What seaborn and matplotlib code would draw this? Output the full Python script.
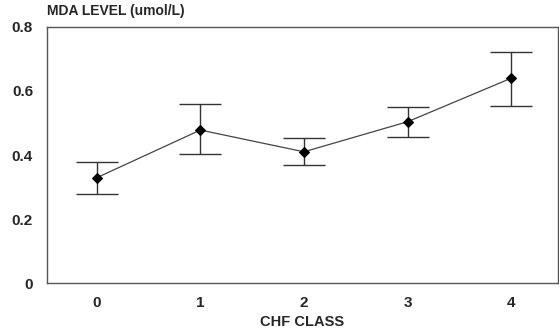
import seaborn as sns
import matplotlib.pyplot as plt
import pandas as pd

# data
chf_class = [0, 1, 2, 3, 4]
mda_mean = [0.329, 0.478, 0.410, 0.504, 0.640]
mda_upper = [0.379, 0.558, 0.452, 0.551, 0.723]
mda_lower = [0.278, 0.403, 0.370, 0.457, 0.554]

df = pd.DataFrame({"CHF CLASS": chf_class, "MDA": mda_mean})
err_low = [m - l for m, l in zip(mda_mean, mda_lower)]
err_up = [u - m for m, u in zip(mda_mean, mda_upper)]

sns.set_style("white")
plt.rcParams['font.family'] = ['Liberation Sans', 'DejaVu Sans']

fig = plt.figure(figsize=(5.59, 3.33), dpi=100)
ax = fig.add_axes([0.084, 0.150, 0.914, 0.769])

ax.errorbar(df["CHF CLASS"], df["MDA"], yerr=[err_low, err_up], fmt="none",
            ecolor="#333333", elinewidth=1.0, capsize=15, capthick=1.0)
sns.lineplot(data=df, x="CHF CLASS", y="MDA", ax=ax, color="#444444",
             linewidth=0.9, marker="D", markersize=5,
             markerfacecolor="black", markeredgecolor="black")

ax.set_xlim(-0.48, 4.45)
ax.set_ylim(0, 0.8)
ax.set_xticks(chf_class)
ax.set_yticks([0, 0.2, 0.4, 0.6, 0.8])
ax.set_yticklabels(["0", "0.2", "0.4", "0.6", "0.8"])
ax.tick_params(length=0, labelsize=11)
ax.tick_params(axis="x", pad=9)
ax.tick_params(axis="y", pad=10)
for lab in ax.get_xticklabels() + ax.get_yticklabels():
    lab.set_fontweight("bold")

ax.set_xlabel("CHF CLASS", fontsize=10.5, fontweight="bold", labelpad=4)
ax.set_ylabel("")
fig.text(0.084, 0.947, "MDA LEVEL (umol/L)", fontsize=10, fontweight="bold",
         ha="left", va="bottom")

for s in ax.spines.values():
    s.set_color("#555555")
    s.set_linewidth(1.0)

fig.savefig("out.png", dpi=100)
